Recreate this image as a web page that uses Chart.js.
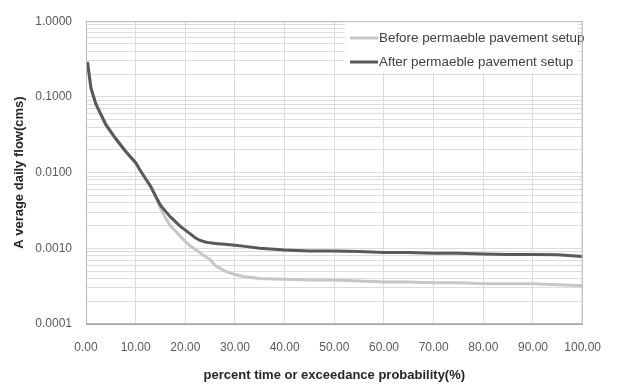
<!DOCTYPE html>
<html>
<head>
<meta charset="utf-8">
<script src="https://cdn.jsdelivr.net/npm/chart.js@4/dist/chart.umd.min.js"></script>
<style>
  body { margin: 0; background: #fff; }
  canvas { display: block; }
</style>
</head>
<body>
<canvas id="fdc" width="617" height="385"></canvas>
<script>
const exceedance = [0.3, 1, 2, 4, 6, 8, 10, 11, 12, 13, 14, 15, 16, 17, 18, 19, 20, 21, 22, 23, 24, 25, 26, 28, 30, 32, 35, 40, 45, 50, 55, 60, 65, 70, 75, 80, 85, 90, 95, 100];

const flowBefore = [0.29, 0.13, 0.080, 0.043, 0.028, 0.019, 0.0135, 0.0105, 0.0083, 0.0066, 0.0049, 0.0034, 0.00254, 0.00197, 0.00169, 0.00144, 0.00123, 0.00107, 0.00097, 0.00087, 0.00078, 0.00071, 0.00059, 0.0005, 0.00045, 0.00042, 0.0004, 0.00039, 0.00038, 0.00038, 0.00037, 0.00036, 0.00036, 0.00035, 0.00035, 0.00034, 0.00034, 0.00034, 0.00033, 0.00032];

const flowAfter = [0.29, 0.13, 0.080, 0.043, 0.028, 0.019, 0.0135, 0.0105, 0.0083, 0.0066, 0.0049, 0.0037, 0.0031, 0.0026, 0.00225, 0.00195, 0.00174, 0.00155, 0.00138, 0.00127, 0.00121, 0.00118, 0.00116, 0.00113, 0.0011, 0.00106, 0.001, 0.00095, 0.00092, 0.00092, 0.00091, 0.00088, 0.00088, 0.00086, 0.00086, 0.00084, 0.00083, 0.00083, 0.00082, 0.00078];

const seriesNames = ["Before permaeble pavement setup", "After permaeble pavement setup"];
const seriesColors = ["#c6c6c6", "#595959"];

const xTicks = [0, 10, 20, 30, 40, 50, 60, 70, 80, 90, 100];
const yDecades = [0.0001, 0.001, 0.01, 0.1, 1];

function toPoints(ys) {
  return exceedance.map((x, i) => ({ x: x, y: ys[i] }));
}

// white legend box inside the plot, like the Excel one
const boxLegend = {
  id: "boxLegend",
  afterDatasetsDraw(chart) {
    const ctx = chart.ctx;
    const area = chart.chartArea;
    ctx.save();
    ctx.fillStyle = "#ffffff";
    ctx.fillRect(345, 21, area.right - 5 - 345, 52);
    ctx.font = "13.4px 'Liberation Sans', Arial, sans-serif";
    ctx.textBaseline = "middle";
    seriesNames.forEach((name, i) => {
      const y = 38 + i * 24;
      ctx.strokeStyle = seriesColors[i];
      ctx.lineWidth = 3;
      ctx.beginPath();
      ctx.moveTo(350, y);
      ctx.lineTo(378, y);
      ctx.stroke();
      ctx.fillStyle = "#404040";
      ctx.fillText(name, 379, y);
    });
    // plot frame
    ctx.strokeStyle = "#b8b8b8";
    ctx.lineWidth = 1;
    ctx.strokeRect(area.left + 0.5, area.top + 0.5, area.right - area.left - 1, area.bottom - area.top - 1);
    ctx.restore();
  }
};

new Chart(document.getElementById("fdc").getContext("2d"), {
  type: "line",
  data: {
    datasets: [
      {
        label: seriesNames[0],
        data: toPoints(flowBefore),
        borderColor: seriesColors[0],
        borderWidth: 3,
        pointRadius: 0,
        tension: 0,
        order: 1
      },
      {
        label: seriesNames[1],
        data: toPoints(flowAfter),
        borderColor: seriesColors[1],
        borderWidth: 3,
        pointRadius: 0,
        tension: 0,
        order: 0
      }
    ]
  },
  options: {
    responsive: false,
    animation: false,
    devicePixelRatio: 1,
    layout: { padding: { top: 15, right: 25, left: 0, bottom: 0 } },
    scales: {
      x: {
        type: "linear",
        min: 0,
        max: 100,
        afterBuildTicks: (scale) => {
          scale.ticks = xTicks.map((v) => ({ value: v }));
        },
        afterFit: (scale) => {
          scale.height = 61;
        },
        ticks: {
          autoSkip: false,
          maxRotation: 0,
          padding: 16,
          color: "#595959",
          font: { family: "'Liberation Sans', Arial, sans-serif", size: 12 },
          callback: (v) => Number(v).toFixed(2)
        },
        grid: { color: "#dcdcdc", drawTicks: false },
        border: { color: "#a6a6a6" },
        title: {
          display: true,
          text: "percent time or exceedance probability(%)",
          color: "#262626",
          font: { family: "'Liberation Sans', Arial, sans-serif", size: 13, weight: "bold" },
          padding: { top: 0, bottom: 2 }
        }
      },
      y: {
        type: "logarithmic",
        min: 0.0001,
        max: 1,
        afterBuildTicks: (scale) => {
          const ticks = [];
          yDecades.forEach((d, i) => {
            if (i === yDecades.length - 1) {
              ticks.push({ value: d });
              return;
            }
            for (let m = 1; m < 10; m++) ticks.push({ value: d * m });
          });
          scale.ticks = ticks;
        },
        afterFit: (scale) => {
          scale.width = 86;
        },
        ticks: {
          autoSkip: false,
          padding: 14,
          color: "#595959",
          font: { family: "'Liberation Sans', Arial, sans-serif", size: 12 },
          callback: function (v) {
            const isDecade = yDecades.some((d) => Math.abs(d - v) / d < 1e-6);
            return isDecade ? Number(v).toFixed(4) : "";
          }
        },
        grid: { color: "#dcdcdc", drawTicks: false },
        border: { color: "#a6a6a6" },
        title: {
          display: true,
          text: "A verage daily flow(cms)",
          color: "#262626",
          font: { family: "'Liberation Sans', Arial, sans-serif", size: 13, weight: "bold" },
          padding: { top: 12, bottom: 0 }
        }
      }
    },
    plugins: {
      legend: { display: false },
      tooltip: { enabled: false }
    }
  },
  plugins: [boxLegend]
});
</script>
</body>
</html>
